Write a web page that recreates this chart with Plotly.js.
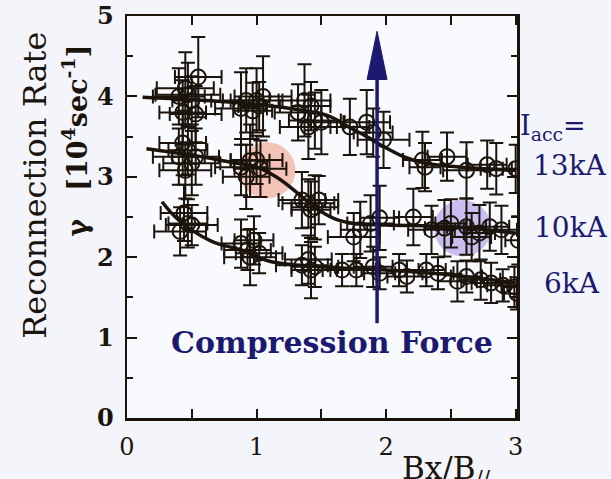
<!DOCTYPE html>
<html><head><meta charset="utf-8">
<script src="https://cdn.plot.ly/plotly-3.0.1.min.js"></script>
<style>html,body{margin:0;padding:0;background:#f3f5fb;}</style>
</head><body>
<div id="chart" style="width:611px;height:479px;"></div>
<script>
// ---- data ----
// 13 kA
const x13  = [0.40,0.43,0.45,0.50,0.53,0.55,0.47, 0.88,0.92,0.97,1.00,1.05,1.02, 1.32,1.37,1.40,1.42,1.45,1.50, 1.72,1.85,1.90,1.98, 2.28,2.30,2.47,2.62,2.78,2.85,3.00];
const y13  = [4.00,3.80,4.10,3.95,3.78,4.24,4.02, 3.85,3.95,3.82,3.95,4.00,3.88, 3.80,3.95,3.62,3.88,3.70,3.68, 3.62,3.68,3.55,3.46, 3.21,3.12,3.25,3.08,3.15,3.10,3.10];
const ex13 = [0.20,0.18,0.22,0.15,0.20,0.18,0.25, 0.20,0.18,0.15,0.20,0.22,0.16, 0.18,0.20,0.22,0.15,0.20,0.18, 0.15,0.18,0.15,0.20, 0.15,0.12,0.15,0.18,0.15,0.12,0.10];
const ey13 = [0.35,0.40,0.45,0.30,0.35,0.50,0.40, 0.45,0.40,0.35,0.40,0.50,0.30, 0.35,0.45,0.40,0.30,0.35,0.40, 0.35,0.40,0.30,0.35, 0.35,0.30,0.30,0.35,0.30,0.32,0.30];
const fitX13 = [0.12,0.5,1.0,1.3,1.55,1.7,1.85,2.0,2.15,2.3,2.5,2.75,3.0];
const fitY13 = [3.99,3.96,3.90,3.84,3.76,3.63,3.50,3.36,3.24,3.17,3.13,3.10,3.08];
// 10 kA
const x10  = [0.40,0.43,0.45,0.47,0.50,0.53, 0.88,0.92,0.95,1.00,1.03, 1.35,1.40,1.42,1.45,1.48, 1.75,1.80,1.88,1.95, 2.21,2.35,2.45,2.50,2.62,2.66,2.72,2.80,2.89,3.02];
const y10  = [3.25,3.42,3.08,3.33,3.17,3.25, 3.12,3.00,3.20,3.21,3.10, 2.71,2.67,2.59,2.62,2.71, 2.25,2.34,2.42,2.49, 2.50,2.34,2.36,2.42,2.38,2.25,2.30,2.38,2.34,2.21];
const ex10 = [0.20,0.18,0.20,0.15,0.22,0.18, 0.20,0.18,0.15,0.20,0.20, 0.18,0.20,0.15,0.18,0.15, 0.20,0.15,0.18,0.15, 0.15,0.18,0.15,0.12,0.15,0.15,0.12,0.15,0.12,0.10];
const ey10 = [0.35,0.40,0.35,0.30,0.40,0.35, 0.35,0.40,0.45,0.30,0.35, 0.35,0.30,0.35,0.40,0.30, 0.30,0.35,0.35,0.40, 0.35,0.30,0.35,0.30,0.35,0.30,0.35,0.30,0.30,0.30];
const fitX10 = [0.15,0.5,0.8,1.0,1.15,1.3,1.45,1.6,1.75,2.0,2.5,3.0];
const fitY10 = [3.35,3.27,3.18,3.12,3.00,2.82,2.62,2.48,2.42,2.40,2.38,2.30];
// 6 kA
const x6   = [0.41,0.44,0.47,0.50, 0.88,0.93,0.95,0.98,1.02, 1.35,1.40,1.42,1.45, 1.66,1.77,1.90,1.95, 2.10,2.16,2.31,2.40,2.55,2.62,2.73,2.81,2.90,2.99,3.01];
const y6   = [2.32,2.55,2.42,2.40, 2.17,2.09,2.00,2.21,2.05, 1.90,1.97,1.84,1.88, 1.84,1.84,1.88,1.80, 1.84,1.76,1.84,1.80,1.70,1.76,1.72,1.68,1.65,1.63,1.55];
const ex6  = [0.20,0.18,0.15,0.20, 0.15,0.18,0.20,0.15,0.18, 0.20,0.18,0.15,0.18, 0.15,0.15,0.15,0.12, 0.15,0.15,0.15,0.12,0.15,0.12,0.15,0.15,0.12,0.10,0.10];
const ey6  = [0.30,0.35,0.30,0.25, 0.30,0.25,0.35,0.30,0.25, 0.25,0.30,0.35,0.25, 0.20,0.20,0.25,0.20, 0.20,0.20,0.20,0.20,0.25,0.20,0.25,0.25,0.20,0.25,0.20];
const fitX6 = [0.27,0.40,0.65,0.90,1.10,1.50,2.00,2.50,3.00];
const fitY6 = [2.69,2.46,2.20,2.08,1.95,1.88,1.84,1.78,1.68];

const xTickVals = [0,0.5,1,1.5,2,2.5,3];
const xTickText = ['0','','1','','2','','3'];
const yTickVals = [0,1,2,3,4,5];
const yTickText = ['0','1','2','3','4','5'];
const seriesLabels = ['13kA','10kA','6kA'];

const INK = '#1b140c';
const NAVY = '#1c1a70';

function pts(x,y,ex,ey){
  return {type:'scatter',mode:'markers',x:x,y:y,
    marker:{symbol:'circle-open',size:15,color:INK,line:{width:2,color:INK}},
    error_x:{type:'data',array:ex,visible:true,color:INK,thickness:2,width:7},
    error_y:{type:'data',array:ey,visible:true,color:INK,thickness:2,width:7},
    hoverinfo:'skip',showlegend:false};
}
function fit(x,y){
  return {type:'scatter',mode:'lines',x:x,y:y,line:{color:INK,width:3.5,shape:'spline'},hoverinfo:'skip',showlegend:false};
}

const data = [
  pts(x13,y13,ex13,ey13), fit(fitX13,fitY13),
  pts(x10,y10,ex10,ey10), fit(fitX10,fitY10),
  pts(x6,y6,ex6,ey6), fit(fitX6,fitY6)
];

const serif = 'DejaVu Serif, Liberation Serif, serif';
function note(x,y,text,size,color,extra){
  return Object.assign({xref:'paper',yref:'paper',x:x,y:y,text:text,showarrow:false,xanchor:'center',yanchor:'middle',
    font:{family:serif,size:size,color:color}},extra||{});
}

const layout = {
  width:611,height:479,
  margin:{l:127,r:94,t:16,b:61},
  paper_bgcolor:'#f3f5fb',plot_bgcolor:'#f9fafd',
  showlegend:false,
  xaxis:{range:[0,3.01],tickvals:xTickVals,ticktext:xTickText,ticks:'inside',ticklen:9,tickwidth:2,tickcolor:INK,
    showline:true,linecolor:INK,linewidth:2.5,mirror:'ticks',showgrid:false,zeroline:false,
    tickfont:{family:serif,size:24,color:INK},ticklabelstandoff:6},
  yaxis:{range:[0,5],tickvals:yTickVals,ticktext:yTickText,ticks:'inside',ticklen:10,tickwidth:2,tickcolor:INK,
    showline:true,linecolor:INK,linewidth:2.5,mirror:'ticks',showgrid:false,zeroline:false,
    minor:{dtick:0.5,ticks:'inside',ticklen:6,tickwidth:2,tickcolor:INK,showgrid:false},
    tickfont:{family:serif,size:24,color:INK,weight:'bold'},ticklabelstandoff:6},
  shapes:[
    {type:'circle',xref:'x',yref:'y',x0:0.86,x1:1.30,y0:2.73,y1:3.43,fillcolor:'rgba(240,150,125,0.55)',line:{width:0},layer:'below'},
    {type:'circle',xref:'x',yref:'y',x0:2.37,x1:2.81,y0:2.01,y1:2.71,fillcolor:'rgba(160,140,230,0.55)',line:{width:0},layer:'below'},
    {type:'line',xref:'x',yref:'y',x0:1.93,x1:1.93,y0:1.18,y1:4.25,line:{color:NAVY,width:3.5}},
    {type:'path',xref:'x',yref:'y',path:'M 1.853 4.21 L 2.007 4.21 L 1.93 4.81 Z',fillcolor:NAVY,line:{color:NAVY,width:1}}
  ],
  annotations:[
    note(-0.236,0.58,'Reconnection Rate',32,INK,{textangle:-90}),
    note(-0.133,0.69,'γ   [10<sup>4</sup>sec<sup>-1</sup>]',27,INK,{textangle:-90,font:{family:serif,size:27,color:INK,weight:'bold'}}),
    note(1.093,0.722,'I<sub>acc</sub>=',27,NAVY),
    note(1.136,0.628,seriesLabels[0],28,NAVY),
    note(1.138,0.475,seriesLabels[1],28,NAVY),
    note(1.141,0.335,seriesLabels[2],28,NAVY),
    note(0.526,0.187,'Compression Force',30,NAVY,{font:{family:serif,size:30,color:NAVY,weight:'bold'}}),
    note(0.818,-0.13,'Bx/B<sub>//</sub>',31,INK)
  ]
};

Plotly.newPlot('chart',data,layout,{staticPlot:true,displayModeBar:false});
</script>
</body></html>
